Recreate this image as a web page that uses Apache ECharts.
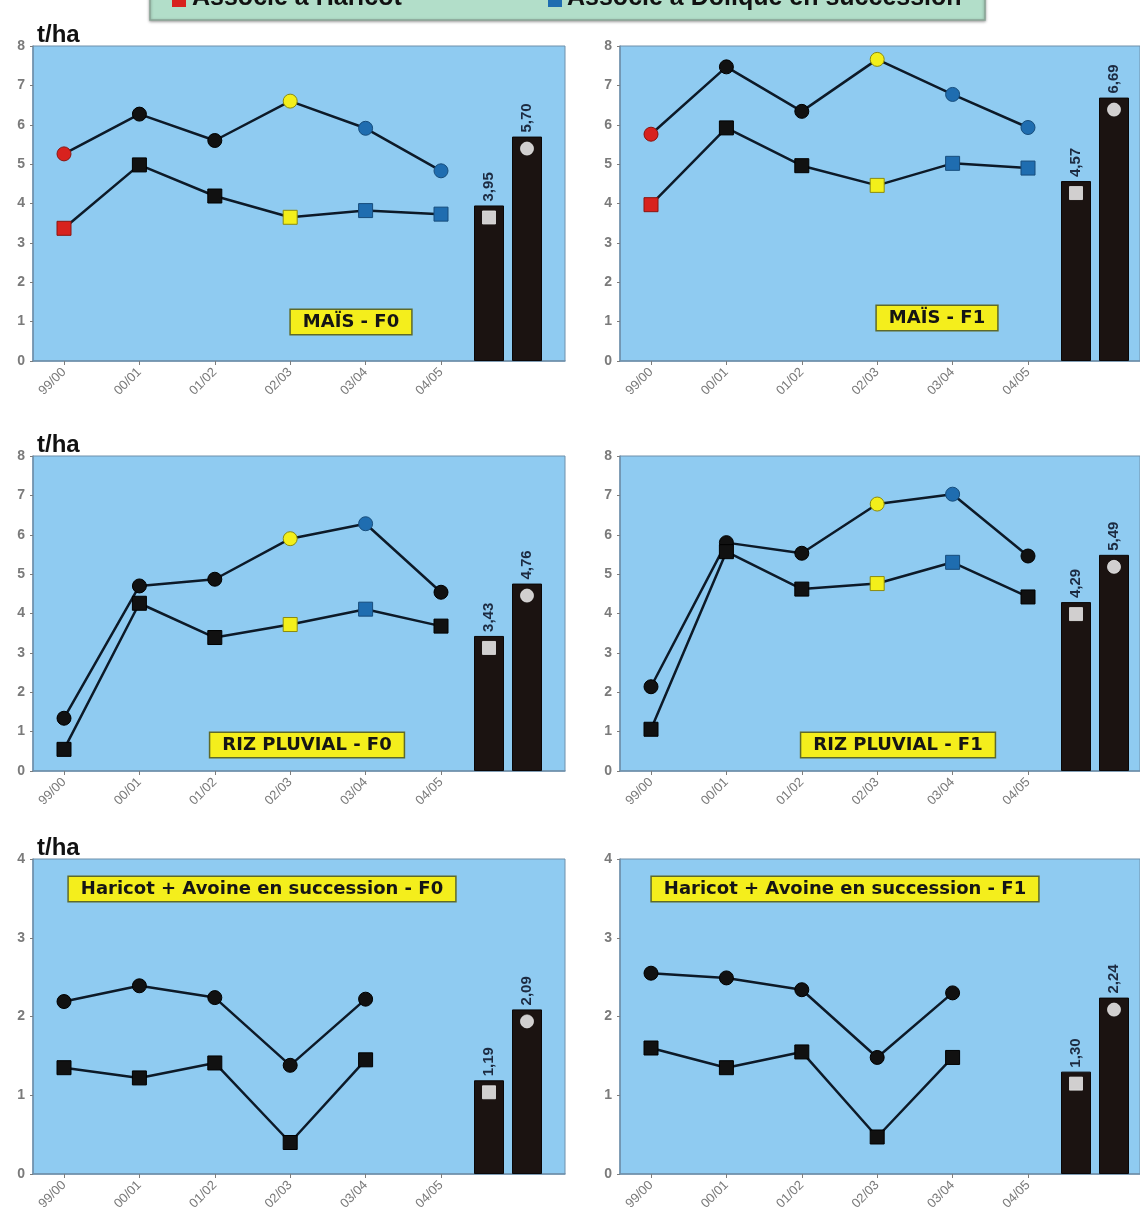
<!DOCTYPE html>
<html>
<head>
<meta charset="utf-8">
<script src="https://cdn.jsdelivr.net/npm/echarts@6/dist/echarts.min.js"></script>
<style>
  html, body { margin: 0; padding: 0; background: #ffffff; }
  #chart { width: 1140px; height: 1226px; }
</style>
</head>
<body>
<div id="chart"></div>
<script>
// ---------------- DATA ----------------
const years = ['99/00', '00/01', '01/02', '02/03', '03/04', '04/05'];
const barCategories = ['Moyenne (carrés)', 'Moyenne (ronds)'];
const barMarkerSymbols = ['rect', 'circle'];

const legendItems = ['Associé à Haricot', 'Associé à Dolique en succession'];

const panelTitles = ['MAÏS - F0', 'MAÏS - F1', 'RIZ PLUVIAL - F0', 'RIZ PLUVIAL - F1',
  'Haricot + Avoine en succession - F0', 'Haricot + Avoine en succession - F1'];
const unitLabel = 't/ha';

const maisF0Circle = [5.26, 6.27, 5.60, 6.60, 5.91, 4.83];
const maisF0Square = [3.37, 4.98, 4.19, 3.65, 3.82, 3.73];
const maisF0Bars = [3.95, 5.70];

const maisF1Circle = [5.76, 7.47, 6.34, 7.66, 6.77, 5.93];
const maisF1Square = [3.97, 5.92, 4.96, 4.46, 5.02, 4.90];
const maisF1Bars = [4.57, 6.69];

const rizF0Circle = [1.34, 4.70, 4.87, 5.90, 6.28, 4.54];
const rizF0Square = [0.55, 4.26, 3.39, 3.72, 4.11, 3.68];
const rizF0Bars = [3.43, 4.76];

const rizF1Circle = [2.14, 5.80, 5.53, 6.78, 7.03, 5.46];
const rizF1Square = [1.06, 5.57, 4.62, 4.76, 5.30, 4.42];
const rizF1Bars = [4.29, 5.49];

const harF0Circle = [2.19, 2.39, 2.24, 1.38, 2.22, null];
const harF0Square = [1.35, 1.22, 1.41, 0.40, 1.45, null];
const harF0Bars = [1.19, 2.09];

const harF1Circle = [2.55, 2.49, 2.34, 1.48, 2.30, null];
const harF1Square = [1.60, 1.35, 1.55, 0.47, 1.48, null];
const harF1Bars = [1.30, 2.24];

// marker colour keys per year: H = associé à Haricot, D = associé à Dolique, Y = yellow, N = plain
const maisMarkerKeys = ['H', 'N', 'N', 'Y', 'D', 'D'];
const rizMarkerKeys  = ['N', 'N', 'N', 'Y', 'D', 'N'];
const harMarkerKeys  = ['N', 'N', 'N', 'N', 'N', 'N'];

const yMaxRows = [8, 8, 4];

// ---------------- STYLE / LAYOUT ----------------
const markerColor = { H: '#d8221e', D: '#1f6db0', Y: '#f3ef1a', N: '#111111' };
const markerBorder = { H: '#8a1410', D: '#174d7c', Y: '#8a8a10', N: '#000000' };
const lineColor = '#0d1a28';
const plotBg = '#8fcbf1';
const frameColor = '#6f90ab';
const tickColor = '#7d7d7d';

const panels = [
  { c: maisF0Circle, s: maisF0Square, b: maisF0Bars, k: maisMarkerKeys, row: 0, col: 0, title: panelTitles[0] },
  { c: maisF1Circle, s: maisF1Square, b: maisF1Bars, k: maisMarkerKeys, row: 0, col: 1, title: panelTitles[1] },
  { c: rizF0Circle, s: rizF0Square, b: rizF0Bars, k: rizMarkerKeys, row: 1, col: 0, title: panelTitles[2] },
  { c: rizF1Circle, s: rizF1Square, b: rizF1Bars, k: rizMarkerKeys, row: 1, col: 1, title: panelTitles[3] },
  { c: harF0Circle, s: harF0Square, b: harF0Bars, k: harMarkerKeys, row: 2, col: 0, title: panelTitles[4] },
  { c: harF1Circle, s: harF1Square, b: harF1Bars, k: harMarkerKeys, row: 2, col: 1, title: panelTitles[5] }
];
const colDx = [0, 587];
const rowTop = [46, 456, 859];
const plotH = 315;
const titlePos = [
  { x: 351, y: 322 }, { x: 350, y: 318 },
  { x: 307, y: 745 }, { x: 311, y: 745 },
  { x: 262, y: 889 }, { x: 258, y: 889 }
];

const grids = [], xAxes = [], yAxes = [], series = [], graphics = [];

panels.forEach((p, i) => {
  const dx = colDx[p.col];
  const top = rowTop[p.row];
  const ymax = yMaxRows[p.row];
  const g0 = 3 * i, g1 = 3 * i + 1, g2 = 3 * i + 2;

  grids.push({ left: 33 + dx, top: top, width: 532, height: plotH, show: true,
    backgroundColor: plotBg, borderColor: frameColor, borderWidth: 1 });
  grids.push({ left: 26.3 + dx, top: top, width: 452.4, height: plotH });
  grids.push({ left: 470 + dx, top: top, width: 76, height: plotH });

  xAxes.push({ gridIndex: g0, type: 'value', min: 0, max: 1,
    axisLine: { show: true, onZero: false, lineStyle: { color: frameColor, width: 1.5 } },
    axisTick: { show: false }, axisLabel: { show: false }, splitLine: { show: false } });
  yAxes.push({ gridIndex: g0, type: 'value', min: 0, max: ymax, interval: 1,
    axisLine: { show: true, lineStyle: { color: frameColor, width: 1.5 } },
    axisTick: { show: true, length: 3, lineStyle: { color: tickColor } },
    splitLine: { show: false },
    axisLabel: { color: '#7a7a7a', fontSize: 14, fontWeight: 'bold', margin: 8,
      fontFamily: 'Liberation Sans' } });

  xAxes.push({ gridIndex: g1, type: 'category', data: years, boundaryGap: true,
    axisLine: { show: false },
    axisTick: { show: true, alignWithLabel: true, length: 4, lineStyle: { color: tickColor } },
    axisLabel: { interval: 0, rotate: 45, color: '#7a7a7a', fontSize: 13, margin: 9,
      fontFamily: 'Liberation Sans' } });
  yAxes.push({ gridIndex: g1, type: 'value', min: 0, max: ymax, show: false });

  xAxes.push({ gridIndex: g2, type: 'category', data: barCategories, show: false });
  yAxes.push({ gridIndex: g2, type: 'value', min: 0, max: ymax, show: false });

  const mk = (vals) => vals.map((v, j) => ({
    value: v,
    itemStyle: { color: markerColor[p.k[j]], borderColor: markerBorder[p.k[j]], borderWidth: 1 }
  }));

  series.push({ type: 'line', xAxisIndex: g1, yAxisIndex: g1, data: mk(p.c),
    symbol: 'circle', symbolSize: 14, connectNulls: false,
    lineStyle: { color: lineColor, width: 2.5 }, z: 3 });
  series.push({ type: 'line', xAxisIndex: g1, yAxisIndex: g1, data: mk(p.s),
    symbol: 'rect', symbolSize: 14, connectNulls: false,
    lineStyle: { color: lineColor, width: 2.5 }, z: 3 });

  series.push({ type: 'bar', xAxisIndex: g2, yAxisIndex: g2, data: p.b, barWidth: 30,
    itemStyle: { color: '#1b1311', borderColor: '#0a0707', borderWidth: 1 },
    label: { show: true, position: 'top', rotate: 90, align: 'left', verticalAlign: 'middle',
      distance: 4, color: '#1c2a40', fontSize: 15, fontWeight: 'bold', fontFamily: 'Liberation Sans',
      formatter: (q) => q.value.toFixed(2).replace('.', ',') }, z: 2 });
  series.push({ type: 'scatter', xAxisIndex: g2, yAxisIndex: g2,
    data: p.b.map((v, j) => ({ value: v, symbol: barMarkerSymbols[j] })),
    symbolSize: 13, symbolOffset: [0, 12],
    itemStyle: { color: '#ffffff', borderColor: '#e6e6e6', borderWidth: 1 }, z: 4 });

  const tp = titlePos[i];
  graphics.push({ type: 'text', x: tp.x + dx, y: tp.y, z: 10,
    style: { text: p.title, align: 'center', verticalAlign: 'middle',
      font: 'bold 18px "DejaVu Sans"', fill: '#151515',
      backgroundColor: '#f4ee1c', borderColor: '#5e6a2a', borderWidth: 1.5,
      padding: [3, 12, 3, 12] } });

  if (p.col === 0) {
    graphics.push({ type: 'text', x: 37, y: top + 1, z: 10,
      style: { text: unitLabel, align: 'left', verticalAlign: 'bottom',
        font: 'bold 24px "Liberation Sans"', fill: '#111111' } });
  }
});

// legend strip at top (cut by the picture edge)
graphics.push({ type: 'rect', shape: { x: 150, y: -40, width: 835, height: 60 },
  style: { fill: '#b2dec9', stroke: '#8aa597', lineWidth: 1.5,
    shadowBlur: 3, shadowColor: 'rgba(0,0,0,0.35)', shadowOffsetY: 1 }, z: 5 });
graphics.push({ type: 'rect', shape: { x: 172, y: -7, width: 14, height: 14 },
  style: { fill: markerColor.H }, z: 6 });
graphics.push({ type: 'text', x: 192, y: -2, z: 6,
  style: { text: legendItems[0], align: 'left', verticalAlign: 'middle',
    font: 'bold 25px "Liberation Sans"', fill: '#111' } });
graphics.push({ type: 'rect', shape: { x: 548, y: -7, width: 14, height: 14 },
  style: { fill: markerColor.D }, z: 6 });
graphics.push({ type: 'text', x: 567, y: -2, z: 6,
  style: { text: legendItems[1], align: 'left', verticalAlign: 'middle',
    font: 'bold 25px "Liberation Sans"', fill: '#111' } });

const chart = echarts.init(document.getElementById('chart'), null, { renderer: 'canvas' });
chart.setOption({
  animation: false,
  backgroundColor: '#ffffff',
  grid: grids,
  xAxis: xAxes,
  yAxis: yAxes,
  series: series,
  graphic: graphics
});
</script>
</body>
</html>
